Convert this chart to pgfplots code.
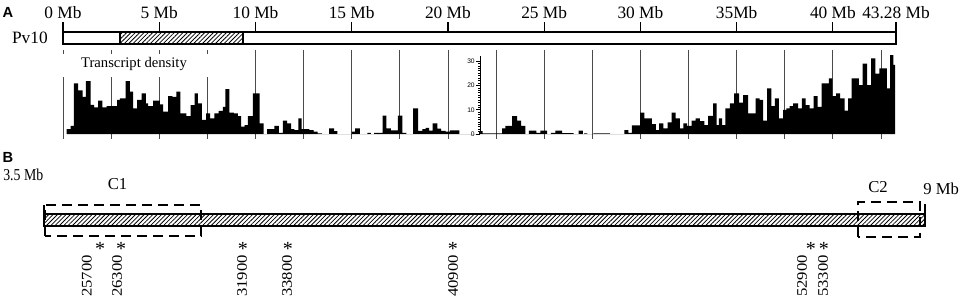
\documentclass[border=0pt]{standalone}
\usepackage{fontspec}
\setmainfont{Liberation Serif}
\newfontfamily\arial{Liberation Sans}
\usepackage{graphicx}
\usepackage{pgfplots}
\pgfplotsset{compat=1.18}
\usetikzlibrary{patterns.meta}
\definecolor{Grid}{HTML}{4A4A4A}
\newcommand{\lab}{\fontsize{13}{15}\selectfont}
\newcommand{\bfnt}{\fontsize{12.5}{14}\selectfont}
\newcommand{\sq}[1]{\scalebox{0.83}[1]{#1}}
\newcommand{\vlab}[1]{\scalebox{0.88}[1]{\rotatebox{90}{\bfnt #1}}}

\begin{document}
\begin{tikzpicture}[x=0.75pt,y=0.75pt]
\path[use as bounding box] (0,0) rectangle (964,298);

% panel A, chromosome bar
\begin{axis}[
  at={(47.25pt,190.5pt)}, anchor=south west, scale only axis,
  width=624.75pt, height=9pt,
  xmin=0, xmax=43.28, ymin=0, ymax=1,
  ytick=\empty,
  xtick={0,5,10,15,20,25,30,35,40,43.28},
  xticklabels={0 Mb,5 Mb,10 Mb,15 Mb,20 Mb,25 Mb,30 Mb,35Mb,40 Mb,43.28 Mb},
  xtick pos=upper, xticklabel pos=upper,
  tick align=outside, major tick length=7.5pt,
  tick style={line width=0.9pt, black},
  axis line style={line width=1pt},
  xticklabel style={font=\lab, inner sep=2pt}
]
\addplot[draw=black, line width=1pt, pattern={Lines[angle=45,distance=2.3pt,line width=0.6pt]}]
  coordinates {(2.96,0)(2.96,1)(9.35,1)(9.35,0)} -- cycle;
\end{axis}

% panel A, transcript density
\begin{axis}[
  at={(47.25pt,123pt)}, anchor=south west, scale only axis,
  width=624.75pt, height=63pt,
  xmin=0, xmax=43.28, ymin=0, ymax=34.57,
  axis line style={draw=none},
  ytick=\empty,
  xtick={0,2.5,...,42.5}, xticklabels={},
  xtick pos=lower, tick align=outside, major tick length=3.75pt,
  tick style={Grid, line width=0.6pt},
  xmajorgrids, grid style={Grid, line width=0.6pt}
]
\addplot[const plot, fill=black, draw=none] coordinates {
(0.19,2.0)(0.40,3.3)(0.57,20.8)(0.79,18.0)(1.02,15.3)(1.19,21.8)(1.43,12.0)(1.62,11.0)
(1.83,13.7)(2.05,11.0)(2.26,11.5)(2.49,11.5)(2.81,14.0)(2.95,14.7)(3.25,21.8)(3.47,17.4)
(3.64,10.5)(3.85,14.0)(4.08,16.7)(4.30,12.6)(4.42,11.5)(4.68,13.7)(5.03,12.2)(5.20,9.2)
(5.46,15.6)(5.68,15.3)(5.89,17.4)(6.10,8.5)(6.41,7.4)(6.63,11.9)(6.84,16.7)(7.01,12.6)
(7.22,5.8)(7.44,8.5)(7.65,6.4)(7.87,8.5)(8.08,9.5)(8.31,11.2)(8.43,18.5)(8.65,8.8)
(8.88,8.5)(9.09,7.4)(9.26,3.0)(9.43,3.7)(9.60,7.4)(9.86,16.7)(10.21,4.4)(10.43,0)
(10.61,2.0)(10.98,3.3)(11.21,0.5)(11.42,5.5)(11.64,4.4)(11.85,2.0)(12.02,1.6)(12.23,6.4)
(12.40,2.0)(12.80,1.6)(13.02,1.0)(13.23,0.3)(13.46,0)(13.83,2.3)(14.09,1.2)(14.25,0)
(15.01,1.0)(15.18,2.3)(15.42,0)(15.82,0.5)(16.00,0)(16.17,0.5)(16.60,7.6)(16.80,2.3)
(17.03,1.5)(17.40,7.6)(17.63,0.5)(17.84,0)(18.19,10.5)(18.45,1.3)(18.67,2.0)(18.84,2.5)
(19.02,1.4)(19.20,4.4)(19.45,2.2)(19.65,1.3)(19.88,1.0)(20.10,1.5)(20.60,0)
(21.62,1.2)(21.80,0.3)(22.81,2.3)(22.98,3.3)(23.33,7.4)(23.59,5.5)(23.80,3.3)(24.02,0)
(24.20,1.4)(24.60,0.5)(24.80,1.4)(25.15,0)(25.35,0.5)(25.58,1.4)(25.93,0.4)(26.53,0)
(26.79,1.4)(27.01,0)(27.08,0.3)(27.25,0)(27.56,0.3)(28.43,0)
(29.17,1.6)(29.38,0.5)(29.55,3.6)(29.98,8.8)(30.20,6.4)(30.59,4.1)(30.80,1.6)(30.97,4.4)
(31.19,2.3)(31.42,4.8)(31.62,8.8)(31.83,6.4)(32.05,2.3)(32.23,4.4)(32.43,3.3)(32.66,5.5)
(32.87,6.4)(33.09,5.3)(33.32,3.7)(33.52,7.5)(33.78,12.6)(33.96,3.7)(34.08,6.4)(34.25,3.7)
(34.42,10.5)(34.65,12.6)(34.87,16.7)(35.13,12.9)(35.34,16.0)(35.59,8.5)(35.99,14.7)(36.20,14.0)
(36.37,5.5)(36.58,18.8)(36.80,11.5)(36.98,14.7)(37.20,6.4)(37.41,9.9)(37.58,10.5)(37.75,11.5)
(37.93,12.6)(38.19,10.5)(38.39,14.7)(38.58,11.9)(38.79,10.5)(39.00,15.6)(39.21,11.2)(39.41,20.8)
(39.62,20.8)(39.79,22.9)(39.97,15.6)(40.17,16.7)(40.38,14.7)(40.61,9.6)(40.79,14.7)(40.97,22.9)
(41.35,20.1)(41.55,29.0)(41.78,20.1)(41.99,31.1)(42.21,24.9)(42.42,27.0)(42.59,27.0)(42.80,18.8)
(42.97,32.5)(43.14,28.4)(43.23,28.4)
} \closedcycle;
\end{axis}

% label over the grid lines
\fill[white] (58,298-54) rectangle (212,298-77);
\node[font=\fontsize{11}{13}\selectfont, inner sep=0] at (134,298-64) {Transcript density};

% small inset scale of the density
\begin{axis}[
  at={(360pt,123pt)}, anchor=south west, scale only axis,
  width=1pt, height=58.5pt,
  xmin=0, xmax=1, ymin=0, ymax=32.1,
  axis x line=none, axis y line=left,
  y axis line style={-, line width=0.6pt},
  ytick={0,10,20,30}, minor y tick num=9,
  tick align=outside, major tick length=3pt, minor tick length=1.5pt,
  tick style={line width=0.5pt, black},
  yticklabel style={font=\arial\fontsize{5}{6}\selectfont, inner sep=0.8pt},
  /pgf/number format/assume math mode=true
]
\end{axis}

\node[font=\arial\bfseries\fontsize{11}{12}\selectfont] at (8,298-12) {A};
\node[anchor=east, font=\lab, inner sep=0] at (48,298-38) {Pv10};

% panel B
\node[font=\arial\bfseries\fontsize{11}{12}\selectfont] at (8,298-157) {B};
\begin{axis}[
  at={(33pt,54pt)}, anchor=south west, scale only axis,
  width=660.75pt, height=9pt,
  xmin=3.5, xmax=9, ymin=0, ymax=1,
  xtick=\empty, ytick=\empty, clip=false,
  axis line style={line width=1.1pt}
]
\addplot[draw=black, line width=1.1pt, pattern={Lines[angle=45,distance=2.3pt,line width=0.6pt]}]
  coordinates {(3.5,0)(3.5,1)(9,1)(9,0)} -- cycle;
\addplot[black, line width=1.1pt] coordinates {(3.5,0)(3.5,1.75)};
\addplot[black, line width=1.1pt] coordinates {(9,0)(9,1.83)};
\addplot[black, line width=1.5pt, dash pattern=on 7.5pt off 4.5pt]
  coordinates {(3.506,-0.83)(3.506,1.75)(4.48,1.75)(4.48,-0.83)} -- cycle;
\addplot[black, line width=1.5pt, dash pattern=on 7.5pt off 4.5pt]
  coordinates {(8.581,-0.92)(8.581,2.0)(8.968,2.0)(8.968,-0.92)} -- cycle;
\foreach \xa/\xt/\t in {3.850/3.768/25700, 3.981/3.956/26300, 4.742/4.736/31900,
  5.023/5.017/33800, 6.053/6.053/40900, 8.288/8.232/52900, 8.369/8.363/53300}{
  \edef\tmp{\noexpand\node[inner sep=0] at (axis cs:\xa,-1.95) {\noexpand\fontsize{15}{16}\noexpand\selectfont *};
    \noexpand\node[anchor=north, inner sep=0] at (axis cs:\xt,-2.42) {\noexpand\vlab{\t}};}
  \tmp
}
\end{axis}
\node[anchor=west, inner sep=0] at (3,298-175) {\sq{\bfnt 3.5 Mb}};
\node[inner sep=0, font=\bfnt] at (117.5,298-184) {C1};
\node[inner sep=0, font=\bfnt] at (878,298-187.5) {C2};
\node[anchor=west, inner sep=0, font=\bfnt] at (923,298-189) {9 Mb};
\end{tikzpicture}
\end{document}
